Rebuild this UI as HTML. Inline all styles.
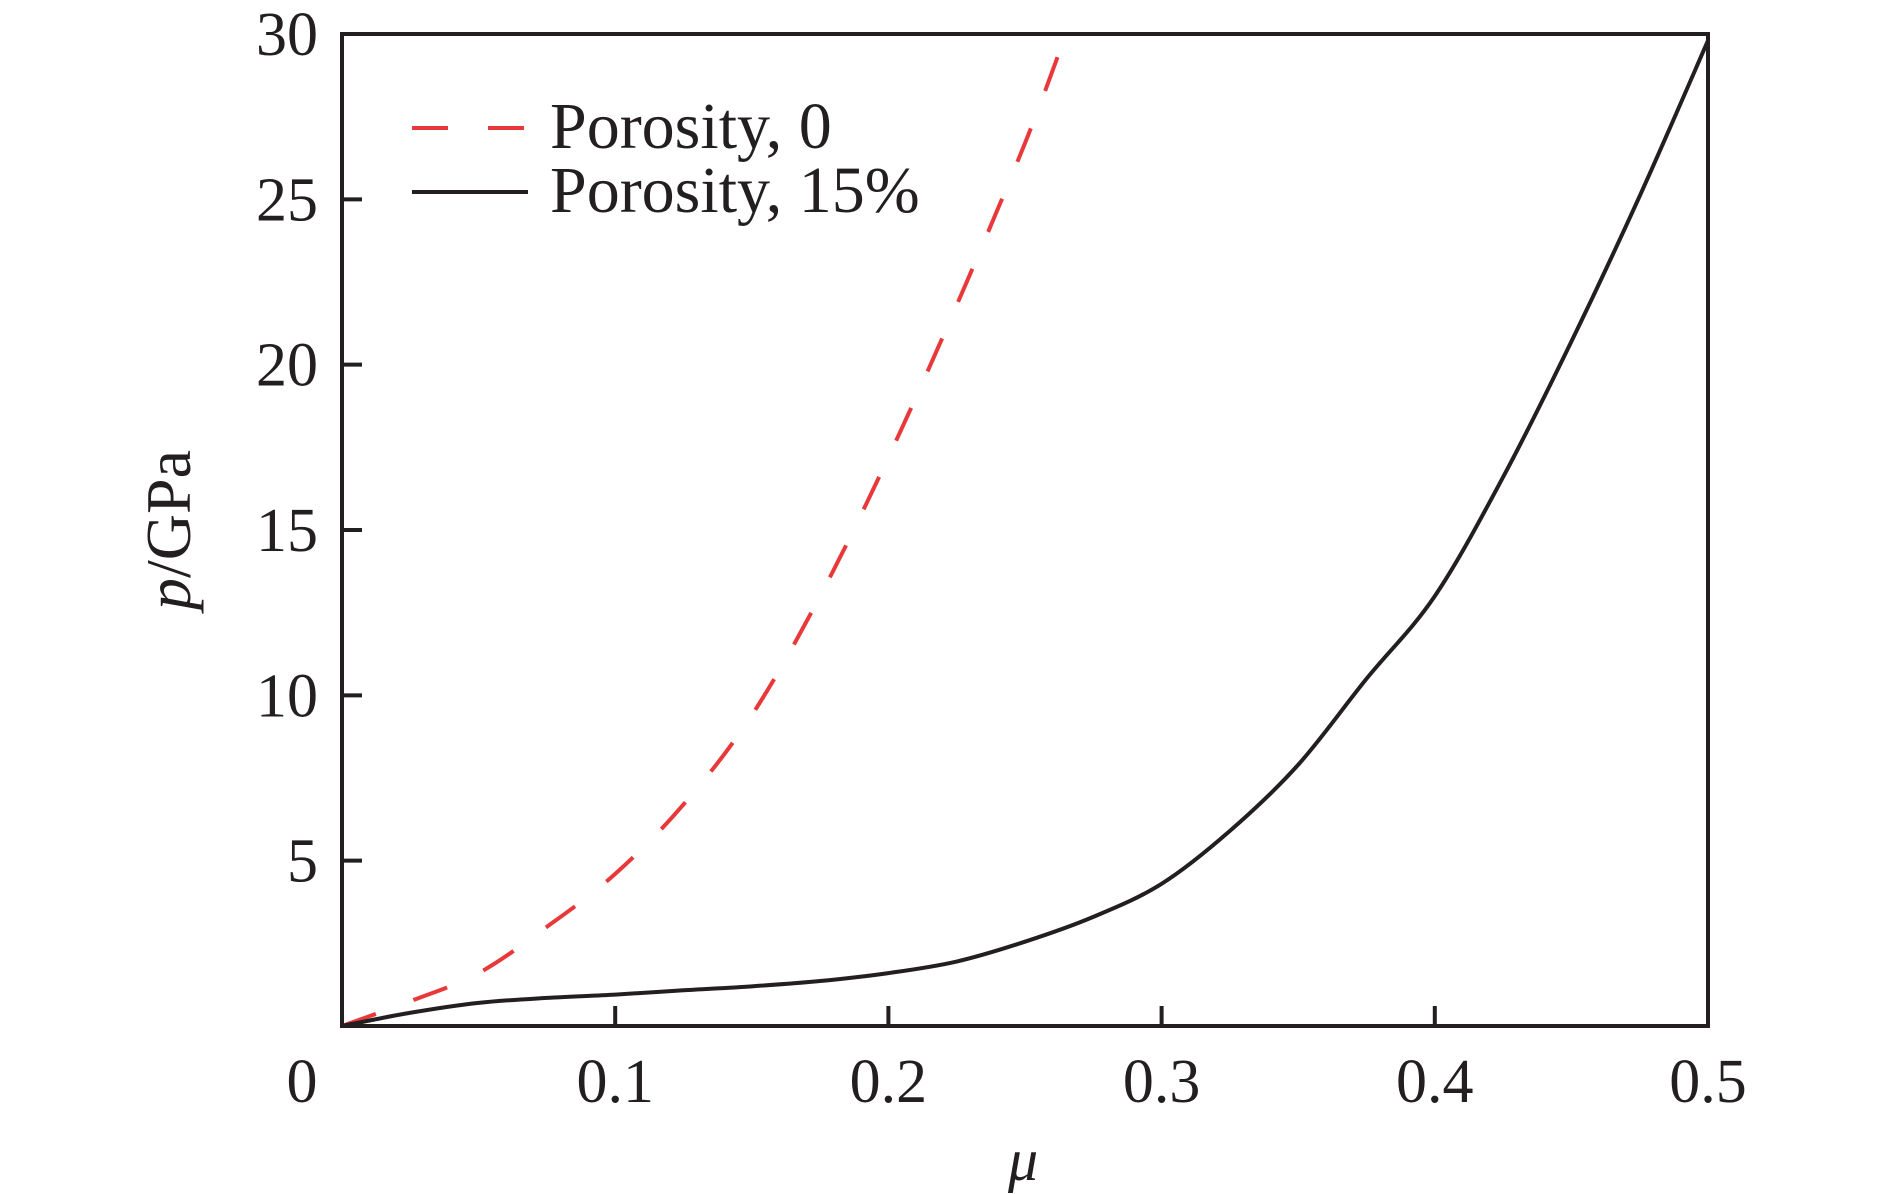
<!DOCTYPE html>
<html><head><meta charset="utf-8"><style>
html,body{margin:0;padding:0;background:#fff;}
svg{display:block;font-family:"Liberation Serif",serif;}
</style></head><body>
<svg id="chart" width="1890" height="1194" viewBox="0 0 1890 1194">
<g id="marks"></g>
<rect x="342" y="34" width="1366" height="992" fill="none" stroke="#231f20" stroke-width="4"/>
<g id="axes"></g>
<text x="190" y="530" font-size="64" fill="#231f20" text-anchor="middle" transform="rotate(-90 190 530)"><tspan font-style="italic">p</tspan>/GPa</text>
<text x="1023" y="1180" font-size="60" font-style="italic" fill="#231f20" text-anchor="middle">μ</text>
<g>
<line x1="412" y1="128" x2="528" y2="128" stroke="#e8383a" stroke-width="4" stroke-dasharray="36 40"/>
<text x="550" y="148" font-size="66" fill="#231f20">Porosity, 0</text>
<line x1="412" y1="192" x2="528" y2="192" stroke="#231f20" stroke-width="4"/>
<text x="550" y="212" font-size="66" fill="#231f20">Porosity, 15%</text>
</g>
</svg>
<script>
const xTicks=[0,0.1,0.2,0.3,0.4,0.5];
const xTickLabels=["0","0.1","0.2","0.3","0.4","0.5"];
const yTicks=[5,10,15,20,25,30];
const yTickLabels=["5","10","15","20","25","30"];
const muDense=[0,0.025,0.05,0.075,0.1,0.125,0.15,0.175,0.2,0.225,0.25,0.265];
const pPorosity0=[0,0.75,1.6,3.0,4.6,6.7,9.4,13.0,17.2,21.8,26.7,30];
const muPorous=[0,0.025,0.05,0.075,0.1,0.125,0.15,0.175,0.2,0.225,0.25,0.275,0.3,0.325,0.35,0.375,0.4,0.425,0.45,0.475,0.5];
const pPorosity15=[0,0.4,0.7,0.85,0.95,1.08,1.2,1.36,1.6,1.95,2.55,3.3,4.3,5.9,7.9,10.5,13.0,16.6,20.7,25.1,29.8];

const X0=342,X1=1708,Y0=1026,Y1=34;
const xs=v=>X0+(v-0)/(0.5-0)*(X1-X0);
const ys=v=>Y0-(v-0)/(30-0)*(Y0-Y1);
const NS="http://www.w3.org/2000/svg";
const axes=document.getElementById('axes'),marks=document.getElementById('marks');
function mk(tag,attrs,parent){const e=document.createElementNS(NS,tag);for(const k in attrs)e.setAttribute(k,attrs[k]);parent.appendChild(e);return e;}
xTicks.forEach((t,i)=>{
  const x=xs(t);
  if(i>0&&i<xTicks.length-1){const l=mk('line',{x1:x,x2:x,y1:Y0,y2:Y0-20,stroke:'#231f20','stroke-width':4},axes);
  
  }
  const tx=mk('text',{x:i===0?x-40:x,y:1102,'font-size':62,fill:'#231f20','text-anchor':'middle'},axes);
  tx.textContent=xTickLabels[i];
  
  
});
yTicks.forEach((t,i)=>{
  const y=ys(t);
  if(t<30){const l=mk('line',{x1:X0,x2:X0+20,y1:y,y2:y,stroke:'#231f20','stroke-width':4},axes);
  
  }
  const tx=mk('text',{x:318,y:y+21,'font-size':62,fill:'#231f20','text-anchor':'end'},axes);
  tx.textContent=yTickLabels[i];
  
  
});
function path(xa,ya){
  const p=xa.map((v,i)=>[xs(v),ys(ya[i])]);
  let d=`M${p[0][0]},${p[0][1]}`;
  for(let i=0;i<p.length-1;i++){
    const a=p[Math.max(i-1,0)],b=p[i],c=p[i+1],e=p[Math.min(i+2,p.length-1)];
    d+=` C${b[0]+(c[0]-a[0])/6},${b[1]+(c[1]-a[1])/6} ${c[0]-(e[0]-b[0])/6},${c[1]-(e[1]-b[1])/6} ${c[0]},${c[1]}`;
  }
  return d;
}
const s1=mk('path',{d:path(muDense,pPorosity0),fill:'none',stroke:'#e8383a','stroke-width':4,'stroke-dasharray':'36 40'},marks);


const s2=mk('path',{d:path(muPorous,pPorosity15),fill:'none',stroke:'#231f20','stroke-width':4},marks);


</script>
</body></html>
